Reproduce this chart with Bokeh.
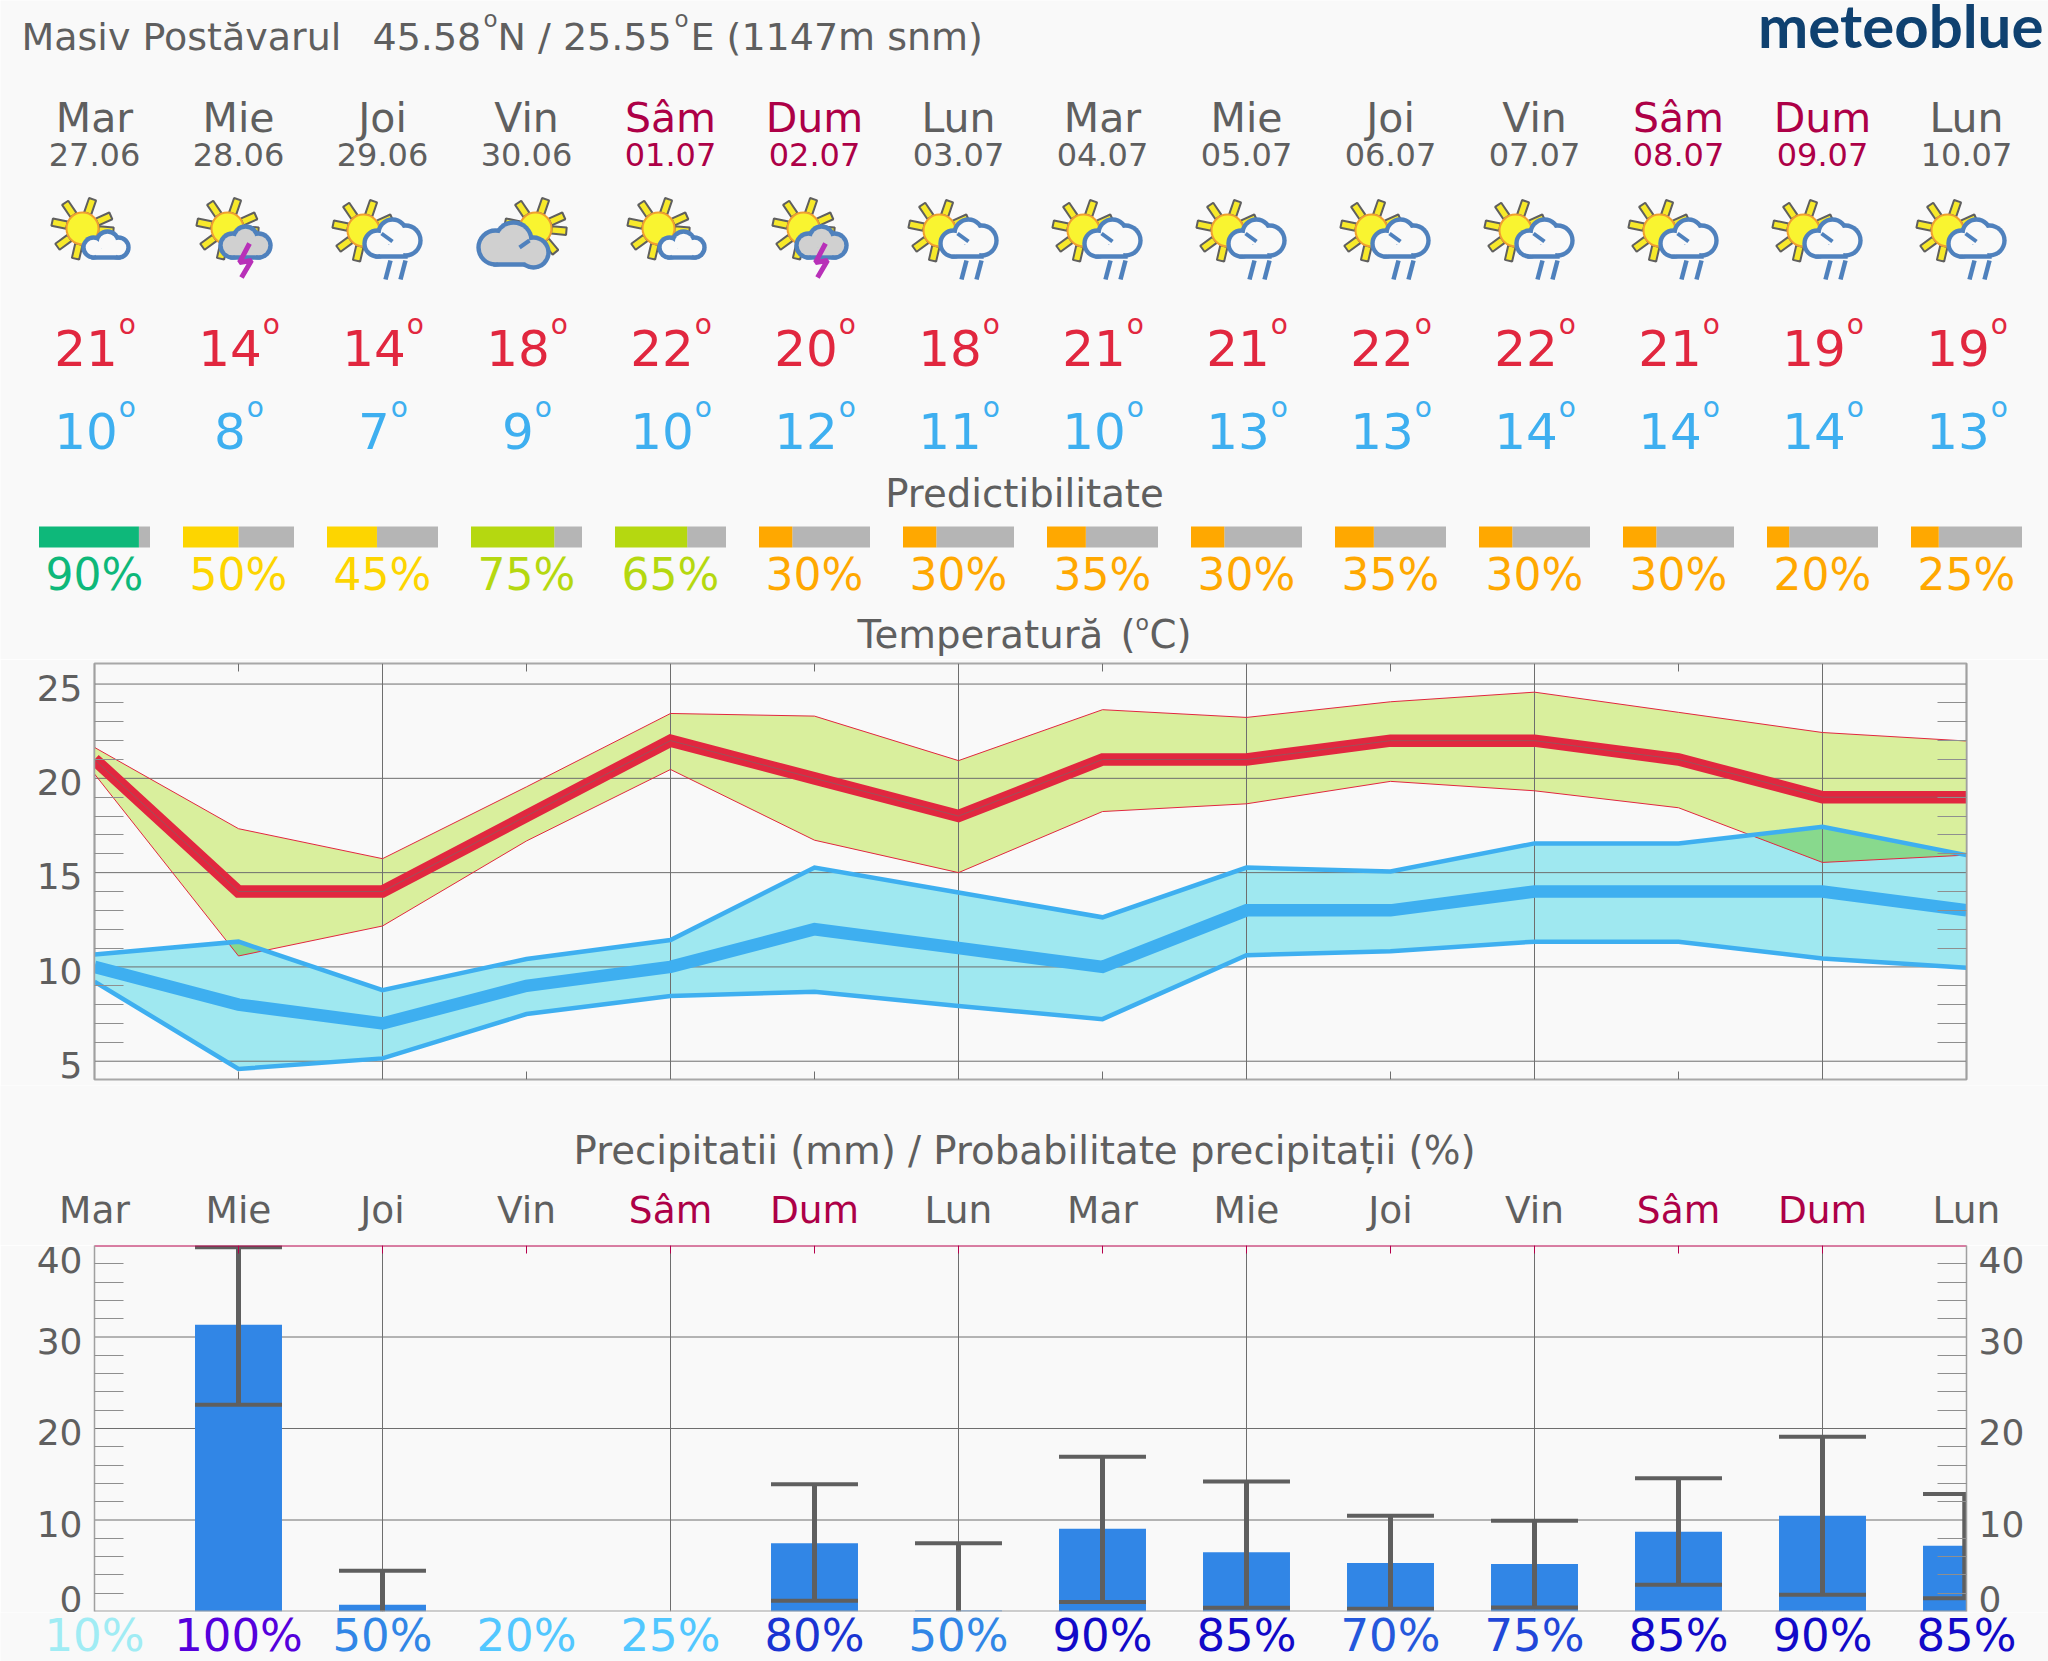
import math
import numpy as np
from bokeh.core.properties import value
from bokeh.embed import file_html
from bokeh.layouts import column
from bokeh.models import FixedTicker, LinearAxis, Range1d
from bokeh.plotting import figure
from bokeh.resources import INLINE

days = ["Mar", "Mie", "Joi", "Vin", "Sâm", "Dum", "Lun", "Mar", "Mie", "Joi", "Vin", "Sâm", "Dum", "Lun"]
dates = ["27.06", "28.06", "29.06", "30.06", "01.07", "02.07", "03.07", "04.07", "05.07", "06.07", "07.07", "08.07", "09.07", "10.07"]
icons = ["sun", "storm", "rain", "cloud", "sun", "storm", "rain", "rain", "rain", "rain", "rain", "rain", "rain", "rain"]
t_max = [21, 14, 14, 18, 22, 20, 18, 21, 21, 22, 22, 21, 19, 19]
t_min = [10, 8, 7, 9, 10, 12, 11, 10, 13, 13, 14, 14, 14, 13]
predictability = [90, 50, 45, 75, 65, 30, 30, 35, 30, 35, 30, 30, 20, 25]
pred_colors = ["#0eb87a", "#fdd500", "#fdd500", "#b5d810", "#b5d810", "#ffa800", "#ffa800", "#ffa800", "#ffa800", "#ffa800", "#ffa800", "#ffa800", "#ffa800", "#ffa800"]
max_hi = [21.64, 17.33, 15.74, 19.55, 23.44, 23.30, 20.94, 23.64, 23.23, 24.06, 24.57, 23.50, 22.43, 21.98]
max_lo = [20.23, 10.58, 12.17, 16.68, 20.47, 16.72, 15.00, 18.24, 18.65, 19.84, 19.34, 18.44, 15.54, 15.93]
min_hi = [10.66, 11.34, 8.77, 10.42, 11.43, 15.27, 13.95, 12.63, 15.27, 15.06, 16.55, 16.55, 17.43, 15.93]
min_lo = [9.22, 4.59, 5.15, 7.50, 8.46, 8.68, 7.93, 7.23, 10.62, 10.83, 11.34, 11.34, 10.45, 9.96]
precip = [0, 31.33, 0.73, 0, 0, 7.47, 0.1, 9.05, 6.47, 5.3, 5.18, 8.72, 10.47, 7.19]
precip_hi = [None, 39.8, 4.45, None, None, 13.9, 7.47, 16.9, 14.2, 10.47, 9.92, 14.55, 19.1, 12.84]
precip_lo = [None, 22.6, 0, None, None, 1.17, 0, 1.05, 0.4, 0.3, 0.44, 2.92, 1.83, 1.46]
precip_prob = [10, 100, 50, 20, 25, 80, 50, 90, 85, 70, 75, 85, 90, 85]
prob_colors = ["#a0ecf4", "#5500dc", "#3186e6", "#52c7ff", "#52c7ff", "#1a34d2", "#3186e6", "#1209c8", "#1209c8", "#2458dc", "#2147d8", "#1209c8", "#1209c8", "#1209c8"]
temp_major = [5, 10, 15, 20, 25]
temp_minor = [6, 7, 8, 9, 11, 12, 13, 14, 16, 17, 18, 19, 21, 22, 23, 24]
temp_labels = {4.8: "5", 9.8: "10", 14.8: "15", 19.8: "20", 24.8: "25"}
prec_major = [10, 20, 30]
prec_minor = [2, 4, 6, 8, 12, 14, 16, 18, 22, 24, 26, 28, 32, 34, 36, 38]
prec_labels = {1.4: "0", 9.6: "10", 19.6: "20", 29.6: "30", 38.4: "40"}

FONT = "DejaVu Sans"
GREY = "#5f5f5f"
WEEKEND = "#ad0047"
BG = "#f9f9f9"
RED = "#e1273f"
BLUE = "#3eaff0"
ICON_BLUE = "#4f81bd"
W = 2048
X0, STEP = 94.0, 144.0
N = len(days)
xs = [X0 + STEP * i for i in range(N)]
day_colors = [WEEKEND if d in ("Sâm", "Dum") else GREY for d in days]
BASE_SHIFT = 0.36


def base(height, x_range, y_range, **kw):
    p = figure(width=W, height=height, x_range=x_range, y_range=y_range, toolbar_location=None,
               output_backend="svg", background_fill_color=BG, border_fill_color=BG,
               x_axis_type=None, y_axis_type=None, frame_align=False, **kw)
    p.grid.visible = False
    return p


def strip(height, y_top):
    return base(height, Range1d(0, W), Range1d(y_top + height, y_top),
                min_border=0, outline_line_color=None)


def txt(p, x, y, t, size, color, align="center", style="normal", font=FONT):
    yy = [v - BASE_SHIFT * size for v in y]
    p.text(x=x, y=yy, text=t, text_color=color, text_align=align, text_baseline="alphabetic",
           text_font=value(font), text_font_size=value(f"{size}px"), text_font_style=style)


# ---------- header ----------
h = strip(659, 0)
txt(h, [21], [50], ["Masiv Postăvarul"], 38, GREY, "left")
txt(h, [372], [50], ["45.58"], 38, GREY, "left")
txt(h, [483], [27], ["o"], 23, GREY, "left")
txt(h, [497], [50], ["N / 25.55"], 38, GREY, "left")
txt(h, [674], [27], ["o"], 23, GREY, "left")
txt(h, [690], [50], ["E (1147m snm)"], 38, GREY, "left")
txt(h, [2043], [46], ["meteoblue"], 60, "#0f4170", "right", "bold", "Lato")

txt(h, xs, [132.5] * N, days, 41, day_colors)
txt(h, xs, [165.5] * N, dates, 32, day_colors)


def degree_row(vals, base_y, color):
    num_w = [len(str(v)) * 0.636 * 50 for v in vals]
    total = [w + 0.612 * 28 for w in num_w]
    nx = [x - t / 2 for x, t in zip(xs, total)]
    ox = [n + w + 1 for n, w in zip(nx, num_w)]
    txt(h, nx, [base_y] * N, [str(v) for v in vals], 50, color, "left")
    txt(h, ox, [base_y - 31] * N, ["o"] * N, 28, color, "left")


degree_row(t_max, 365, RED)
degree_row(t_min, 448, BLUE)


def sun(cx, cy):
    angles = [24, 71, 124, 168, 216, 257, 310, 355]
    for a in angles:
        r = math.radians(a)
        ux, uy = math.cos(r), -math.sin(r)
        vx, vy = -uy, ux
        r0, r1, w = 16, 31, 3.7
        px = [cx + ux * r0 + vx * w, cx + ux * r1 + vx * w, cx + ux * r1 - vx * w, cx + ux * r0 - vx * w]
        py = [cy + uy * r0 + vy * w, cy + uy * r1 + vy * w, cy + uy * r1 - vy * w, cy + uy * r0 - vy * w]
        h.patch(px, py, fill_color="#f7e92a", line_color=GREY, line_width=2)
    h.circle([cx], [cy], radius=16, fill_color="#f9f430", line_color="#f0a030", line_width=2)


def cloud(puffs, rect, fill):
    cx = [c[0] for c in puffs]
    cy = [c[1] for c in puffs]
    x0, y0, x1, y1 = rect
    for grow, color in ((2.2, ICON_BLUE), (-2.2, fill)):
        h.circle(cx, cy, radius=[c[2] + grow for c in puffs], fill_color=color, line_color=None)
        h.quad(left=[x0 - grow], right=[x1 + grow], top=[y0 - grow], bottom=[y1 + grow], fill_color=color, line_color=None)


for x, kind in zip(xs, icons):
    if kind == "sun":
        sun(x - 12, 228)
        cloud([(x - 1, 247, 10), (x + 13, 242, 11), (x + 24, 247, 10)], (x - 1, 246, x + 24, 257), BG)
    elif kind == "storm":
        sun(x - 11, 228)
        cloud([(x - 6, 245, 12), (x + 7, 238, 12), (x + 20, 245, 12)], (x - 6, 245, x + 20, 257), "#d0d0d0")
        h.line([x + 11, x + 1, x + 13, x + 3], [243, 262, 260, 277], line_color="#b830b8", line_width=5)
    elif kind == "rain":
        sun(x - 19, 230)
        cloud([(x - 5, 243, 13), (x + 10, 233, 14), (x + 23, 240, 15)], (x - 5, 242, x + 23, 256), BG)
        h.line([x + 8, x + 3], [260, 279], line_color=ICON_BLUE, line_width=4.5)
        h.line([x + 23, x + 18], [260, 279], line_color=ICON_BLUE, line_width=4.5)
        h.line([x - 1, x + 10], [233, 241], line_color=ICON_BLUE, line_width=4)
    else:
        sun(x + 9, 228)
        cloud([(x - 31, 247, 17), (x - 13, 240, 18), (x + 7, 252, 15)], (x - 31, 248, x + 7, 264), "#d0d0d0")
        h.line([x - 7, x + 3], [247, 240], line_color=ICON_BLUE, line_width=4)

txt(h, [1024], [507], ["Predictibilitate"], 38.7, GREY)
BAR_W = 111.0
lefts = [x - BAR_W / 2 for x in xs]
mids = [l + BAR_W * v / 100 for l, v in zip(lefts, predictability)]
h.quad(left=mids, right=[l + BAR_W for l in lefts], top=[526] * N, bottom=[547] * N, fill_color="#b5b5b5", line_color=None)
h.quad(left=lefts, right=mids, top=[526] * N, bottom=[547] * N, fill_color=pred_colors, line_color=None)
txt(h, xs, [590] * N, [f"{v}%" for v in predictability], 44, pred_colors)
txt(h, [857], [648], ["Temperatură"], 38.7, GREY, "left")
txt(h, [1120], [648], ["("], 38.7, GREY, "left")
txt(h, [1135], [630], ["o"], 22, GREY, "left")
txt(h, [1149], [648], ["C)"], 38.7, GREY, "left")


# ---------- axes helper ----------
def add_axes(p, labels, minor, right_labels):
    for side, ticks in (("left", list(labels)), ("right", list(labels) if right_labels else [])):
        ax = LinearAxis(ticker=FixedTicker(ticks=ticks, minor_ticks=minor),
                        major_tick_in=0, major_tick_out=0, minor_tick_in=29, minor_tick_out=0,
                        minor_tick_line_color="#8f8f8f", axis_line_color="#a0a0a0", axis_line_width=1.5,
                        major_label_text_font=FONT, major_label_text_font_size="36px",
                        major_label_text_color=GREY, major_label_standoff=12,
                        major_label_overrides=labels)
        p.add_layout(ax, side)


# ---------- temperature ----------
idx = list(range(N))
TL, TH = 4.03, 26.09
t = base(426, Range1d(0, N - 1), Range1d(TL, TH), min_border_left=94, min_border_right=82,
         min_border_top=4, min_border_bottom=6, outline_line_color="#a8a8a8", outline_line_width=2)
t.varea(idx, max_lo, max_hi, fill_color="#d9ef9d")
t.varea(idx, min_lo, min_hi, fill_color="#9fe8f0")
xf = np.linspace(0, N - 1, 2601)
upper = np.minimum(np.interp(xf, idx, max_hi), np.interp(xf, idx, min_hi))
lower = np.maximum(np.interp(xf, idx, max_lo), np.interp(xf, idx, min_lo))
mask = upper > lower
edges = np.flatnonzero(np.diff(np.r_[0, mask.astype(int), 0]))
for a, b in zip(edges[::2], edges[1::2]):
    t.varea(xf[a:b], lower[a:b], upper[a:b], fill_color="#88d98d")

even = [i for i in idx if i % 2 == 0 and 0 < i < N - 1]
odd = [i for i in idx if i % 2 == 1]
t.segment(x0=[0] * len(temp_major), x1=[N - 1] * len(temp_major), y0=temp_major, y1=temp_major, line_color="#6e6e6e", line_width=1)
t.segment(x0=even, x1=even, y0=[TL] * len(even), y1=[TH] * len(even), line_color="#6e6e6e", line_width=1)
TICK_T = 8 / 18.86
t.segment(x0=odd, x1=odd, y0=[TL] * len(odd), y1=[TL + TICK_T] * len(odd), line_color="#6e6e6e", line_width=1)
t.segment(x0=odd, x1=odd, y0=[TH - TICK_T] * len(odd), y1=[TH] * len(odd), line_color="#6e6e6e", line_width=1)
t.line(idx, max_hi, line_color=RED, line_width=1)
t.line(idx, max_lo, line_color=RED, line_width=1)
t.line(idx, min_hi, line_color=BLUE, line_width=4.5, line_join="miter")
t.line(idx, min_lo, line_color=BLUE, line_width=4.5, line_join="miter")
t.line(idx, t_min, line_color=BLUE, line_width=12.5, line_join="miter")
t.line(idx, t_max, line_color=RED, line_width=12.5, line_join="miter")
t.line(idx, t_max, line_color="#6e6e6e", line_width=1, line_alpha=0.6)
add_axes(t, temp_labels, temp_minor, False)

# ---------- precipitation heading ----------
m = strip(160, 1085)
txt(m, [1024], [1164], ["Precipitatii (mm) / Probabilitate precipitații (%)"], 38.7, GREY)
txt(m, xs, [1223] * N, days, 37.5, day_colors)

# ---------- precipitation ----------
r = base(367, Range1d(0, N - 1), Range1d(0, 40), min_border_left=94, min_border_right=82,
         min_border_top=0, min_border_bottom=1, outline_line_color=None)
r.segment(x0=[0] * len(prec_major), x1=[N - 1] * len(prec_major), y0=prec_major, y1=prec_major, line_color="#6e6e6e", line_width=1)
r.segment(x0=even, x1=even, y0=[0] * len(even), y1=[40] * len(even), line_color="#6e6e6e", line_width=1)
BW = 0.302
r.quad(left=[i - BW for i in idx], right=[i + BW for i in idx], bottom=[0] * N, top=precip, fill_color="#3186e6", line_color=None)
wx = [i for i in idx if precip_hi[i] is not None]
hi = [precip_hi[i] for i in wx]
lo = [precip_lo[i] for i in wx]
stem_x = [min(i, N - 1 - 0.012) for i in wx]
r.segment(x0=stem_x, x1=stem_x, y0=lo, y1=hi, line_color=GREY, line_width=5)
r.segment(x0=[i - BW for i in wx], x1=[i + BW for i in wx], y0=hi, y1=hi, line_color=GREY, line_width=4)
r.segment(x0=[i - BW for i in wx if precip_lo[i] > 0], x1=[i + BW for i in wx if precip_lo[i] > 0],
          y0=[precip_lo[i] for i in wx if precip_lo[i] > 0], y1=[precip_lo[i] for i in wx if precip_lo[i] > 0],
          line_color=GREY, line_width=4)
r.segment(x0=[0], x1=[N - 1], y0=[0], y1=[0], line_color="#a0a0a0", line_width=2)
r.segment(x0=[0], x1=[N - 1], y0=[40], y1=[40], line_color="#b5004b", line_width=2)
r.segment(x0=idx, x1=idx, y0=[40 - 8 / 9.15] * N, y1=[40] * N, line_color="#b5004b", line_width=1)
add_axes(r, prec_labels, prec_minor, True)

# ---------- footer ----------
f = strip(49, 1612)
txt(f, xs, [1651] * N, [f"{v}%" for v in precip_prob], 45, prob_colors)

page = column(h, t, m, r, f, spacing=0)
open("out.html", "w").write(file_html(page, INLINE))
